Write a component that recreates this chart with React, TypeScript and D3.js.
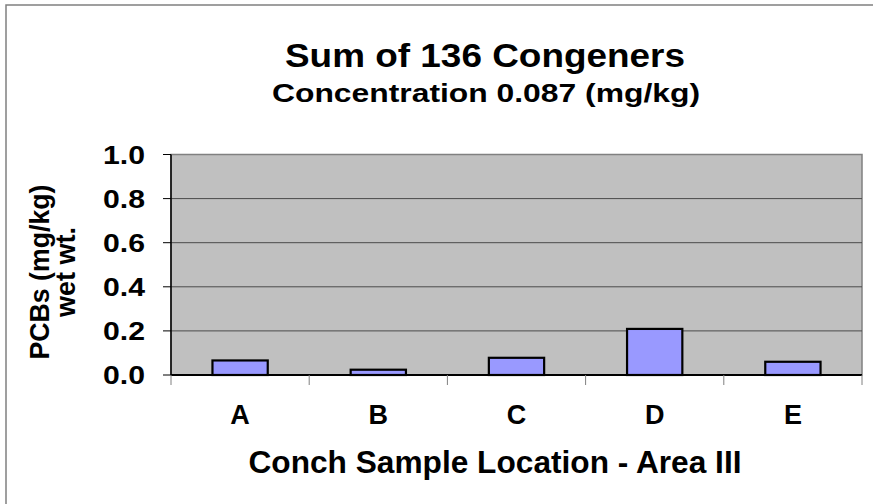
import { useEffect, useRef } from 'react'
import * as d3 from 'd3'

const locations = ['A', 'B', 'C', 'D', 'E']
const pcbValues = [0.066, 0.024, 0.078, 0.209, 0.06]
const yTicks = [0, 0.2, 0.4, 0.6, 0.8, 1.0]

const titleText = 'Sum of 136 Congeners'
const subtitleText = 'Concentration 0.087 (mg/kg)'
const yTitleLines = ['PCBs (mg/kg)', 'wet wt.']
const xTitleText = 'Conch Sample Location - Area III'

const FONT = '"Liberation Sans", Arial, sans-serif'

export default function App() {
  const svgRef = useRef<SVGSVGElement>(null)

  useEffect(() => {
    if (!svgRef.current) return
    const width = 873
    const height = 504
    const plot = { left: 171, right: 862, top: 154.5, bottom: 375 }

    const svg = d3.select(svgRef.current)
    svg.selectAll('*').remove()

    svg.append('rect')
      .attr('width', width)
      .attr('height', height)
      .attr('fill', '#ffffff')

    // outer chart border: only top and left edges show
    svg.append('path')
      .attr('d', `M6,${height} L6,5 L${width},5`)
      .attr('fill', 'none')
      .attr('stroke', '#808080')
      .attr('stroke-width', 1.5)

    const x = d3.scaleBand<string>()
      .domain(locations)
      .range([plot.left, plot.right])
      .paddingInner(0.6)
      .paddingOuter(0.3)

    const xCat = d3.scaleBand<string>()
      .domain(locations)
      .range([plot.left, plot.right])
      .padding(0)

    const y = d3.scaleLinear()
      .domain([0, 1])
      .range([plot.bottom, plot.top])

    // plot area
    svg.append('rect')
      .attr('x', plot.left)
      .attr('y', plot.top)
      .attr('width', plot.right - plot.left)
      .attr('height', plot.bottom - plot.top)
      .attr('fill', '#c0c0c0')
      .attr('stroke', '#808080')
      .attr('stroke-width', 1.5)

    // gridlines
    svg.append('g')
      .selectAll('line')
      .data(yTicks.filter(t => t > 0 && t < 1))
      .join('line')
      .attr('x1', plot.left)
      .attr('x2', plot.right)
      .attr('y1', d => y(d))
      .attr('y2', d => y(d))
      .attr('stroke', '#4a4a4a')
      .attr('stroke-width', 1)

    // bars
    svg.append('g')
      .selectAll('rect')
      .data(locations)
      .join('rect')
      .attr('x', d => x(d)!)
      .attr('y', (d, i) => y(pcbValues[i]))
      .attr('width', x.bandwidth())
      .attr('height', (d, i) => y(0) - y(pcbValues[i]))
      .attr('fill', '#9999ff')
      .attr('stroke', '#000000')
      .attr('stroke-width', 2.2)

    // y axis
    svg.append('line')
      .attr('x1', plot.left)
      .attr('x2', plot.left)
      .attr('y1', plot.top)
      .attr('y2', plot.bottom)
      .attr('stroke', '#000')
      .attr('stroke-width', 1.5)

    svg.append('g')
      .selectAll('line')
      .data(yTicks)
      .join('line')
      .attr('x1', plot.left - 8)
      .attr('x2', plot.left)
      .attr('y1', d => y(d))
      .attr('y2', d => y(d))
      .attr('stroke', '#000')
      .attr('stroke-width', 1)

    svg.append('g')
      .selectAll('text')
      .data(yTicks)
      .join('text')
      .attr('x', 145)
      .attr('y', d => y(d) + 9)
      .attr('text-anchor', 'end')
      .attr('font-family', FONT)
      .attr('font-weight', 'bold')
      .attr('font-size', 25)
      .attr('textLength', 42)
      .attr('lengthAdjust', 'spacingAndGlyphs')
      .attr('fill', '#000')
      .text(d => d.toFixed(1))

    // x axis
    svg.append('line')
      .attr('x1', plot.left)
      .attr('x2', plot.right)
      .attr('y1', plot.bottom)
      .attr('y2', plot.bottom)
      .attr('stroke', '#000')
      .attr('stroke-width', 2)

    const bounds = locations.map(d => xCat(d)!).concat([plot.right])
    svg.append('g')
      .selectAll('line')
      .data(bounds)
      .join('line')
      .attr('x1', d => d)
      .attr('x2', d => d)
      .attr('y1', plot.bottom)
      .attr('y2', plot.bottom + 10)
      .attr('stroke', '#808080')
      .attr('stroke-width', 1)

    svg.append('g')
      .selectAll('text')
      .data(locations)
      .join('text')
      .attr('x', d => xCat(d)! + xCat.bandwidth() / 2)
      .attr('y', 424)
      .attr('text-anchor', 'middle')
      .attr('font-family', FONT)
      .attr('font-weight', 'bold')
      .attr('font-size', 27)
      .attr('fill', '#000')
      .text(d => d)

    // titles
    svg.append('text')
      .attr('x', 485)
      .attr('y', 67)
      .attr('text-anchor', 'middle')
      .attr('font-family', FONT)
      .attr('font-weight', 'bold')
      .attr('font-size', 33)
      .attr('textLength', 400)
      .attr('lengthAdjust', 'spacingAndGlyphs')
      .text(titleText)

    svg.append('text')
      .attr('x', 486)
      .attr('y', 102)
      .attr('text-anchor', 'middle')
      .attr('font-family', FONT)
      .attr('font-weight', 'bold')
      .attr('font-size', 26)
      .attr('textLength', 428)
      .attr('lengthAdjust', 'spacingAndGlyphs')
      .text(subtitleText)

    svg.append('text')
      .attr('x', 495)
      .attr('y', 473)
      .attr('text-anchor', 'middle')
      .attr('font-family', FONT)
      .attr('font-weight', 'bold')
      .attr('font-size', 31)
      .attr('textLength', 493)
      .attr('lengthAdjust', 'spacingAndGlyphs')
      .text(xTitleText)

    const yTitle = svg.append('g')
      .attr('transform', 'translate(49,272) rotate(-90)')
    yTitle.selectAll('text')
      .data(yTitleLines)
      .join('text')
      .attr('x', 0)
      .attr('y', (d, i) => i * 26)
      .attr('text-anchor', 'middle')
      .attr('font-family', FONT)
      .attr('font-weight', 'bold')
      .attr('font-size', 27)
      .attr('textLength', (d, i) => (i === 0 ? 175 : 90))
      .attr('lengthAdjust', 'spacingAndGlyphs')
      .text(d => d)
  }, [])

  return (
    <svg
      ref={svgRef}
      width={873}
      height={504}
      style={{ position: 'absolute', left: 0, top: 0, display: 'block' }}
    />
  )
}
